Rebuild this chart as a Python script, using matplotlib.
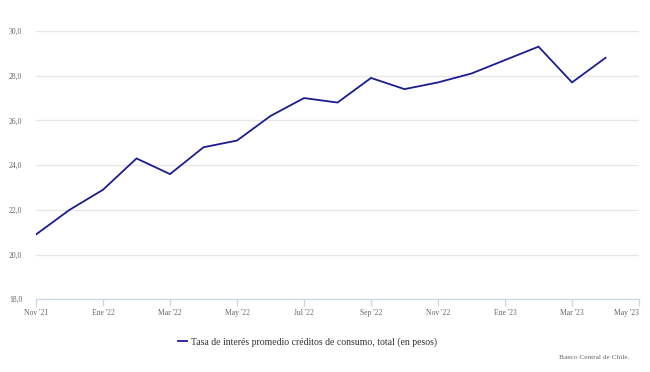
import matplotlib
matplotlib.use("Agg")
import matplotlib.pyplot as plt

# Monthly values, Nov '21 .. Apr '23
months = ["Nov '21", "Dic '21", "Ene '22", "Feb '22", "Mar '22", "Abr '22",
          "May '22", "Jun '22", "Jul '22", "Ago '22", "Sep '22", "Oct '22",
          "Nov '22", "Dic '22", "Ene '23", "Feb '23", "Mar '23", "Abr '23"]
tasa = [20.9, 22.0, 22.9, 24.3, 23.6, 24.8, 25.1, 26.2, 27.0, 26.8,
        27.9, 27.4, 27.7, 28.1, 28.7, 29.3, 27.7, 28.8]

tick_labels = ["Nov '21", "Ene '22", "Mar '22", "May '22", "Jul '22",
               "Sep '22", "Nov '22", "Ene '23", "Mar '23", "May '23"]
y_ticks = [18, 20, 22, 24, 26, 28, 30]

plt.rcParams["font.family"] = ["Liberation Serif", "DejaVu Serif"]

fig = plt.figure(figsize=(6.5, 3.72), dpi=100)
ax = fig.add_axes([0.0554, 0.1954, 0.9277, 0.7213])

x = list(range(len(tasa)))
ax.plot(x, tasa, color="#1c1c8f", linewidth=1.3, solid_joinstyle="miter",
        label="Tasa de interés promedio créditos de consumo, total (en pesos)")

ax.set_xlim(0, 18)
ax.set_ylim(18, 30)
ax.set_xticks(range(0, 19, 2))
ax.set_xticklabels(tick_labels)
ax.set_yticks(y_ticks)
ax.set_yticklabels([f"{v:.1f}".replace(".", ",") for v in y_ticks])

ax.grid(axis="y", color="#e6e6e6", linewidth=0.9)
ax.set_axisbelow(True)
for s in ["top", "right", "left"]:
    ax.spines[s].set_visible(False)
ax.spines["bottom"].set_color("#ccd6eb")
ax.spines["bottom"].set_linewidth(0.9)

ax.tick_params(axis="x", colors="#ccd6eb", length=5, width=0.9,
               labelcolor="#666666", labelsize=5.5, pad=2)
ax.tick_params(axis="y", length=0, labelcolor="#666666", labelsize=5.5, pad=10)

# last label kept inside the figure
last = ax.get_xticklabels()[-1]
last.set_horizontalalignment("right")
last.set_x(18.2)

leg = fig.legend(loc="lower left", bbox_to_anchor=(0.26, 0.045), frameon=False,
                 fontsize=7.0, handlelength=1.0, handletextpad=0.4)
for t in leg.get_texts():
    t.set_color("#333333")

fig.text(0.969, 0.040, "Banco Central de Chile.", ha="right", va="center",
         fontsize=5.2, color="#666666")

fig.savefig("out.png", dpi=100)
